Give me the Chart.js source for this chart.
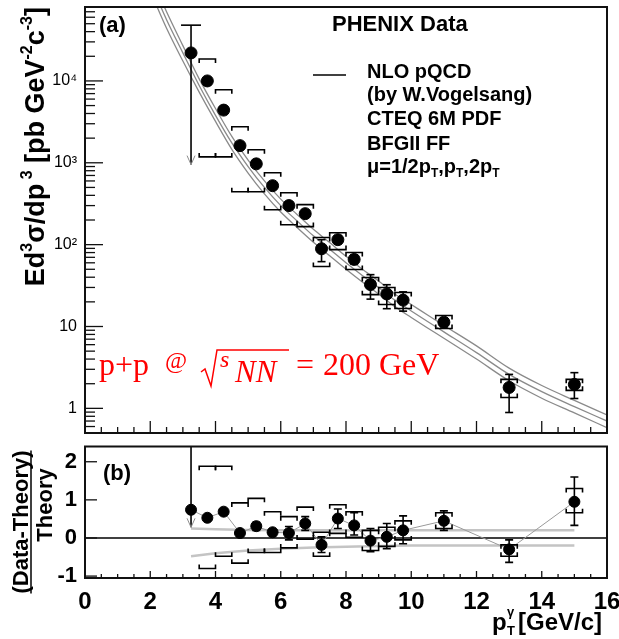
<!DOCTYPE html>
<html>
<head>
<meta charset="utf-8">
<script src="https://cdn.jsdelivr.net/npm/chart.js@4.4.0/dist/chart.umd.min.js"></script>
<style>
  body { margin: 0; background: #fff; }
  #wrap { position: relative; width: 619px; height: 639px; }
  canvas { position: absolute; left: 0; }
</style>
</head>
<body>
<div id="wrap">
  <canvas id="top" width="619" height="440" style="top:0"></canvas>
  <canvas id="bot" width="619" height="199" style="top:440px"></canvas>
</div>
<script>
// photon pT bins (GeV/c)
const pt = [3.25, 3.75, 4.25, 4.75, 5.25, 5.75, 6.25, 6.75, 7.25, 7.75, 8.25, 8.75, 9.25, 9.75, 11, 13, 15];

// (a) invariant cross section, pb GeV^-2 c^-3
const xsec       = [22000, 10000, 4400, 1620, 970, 525, 300, 239, 89, 115, 66, 32.5, 25, 21, 11.3, 1.8, 1.96];
const xsecStatHi = [48000, 10400, 4560, 1680, 1000, 545, 312, 262, 115, 128, 75, 43, 32.4, 26.5, 12.7, 2.6, 2.73];
const xsecStatLo = [950, 9600, 4250, 1560, 940, 505, 288, 218, 62, 103, 58, 21.6, 16.5, 15.4, 9.9, 0.89, 1.32];
const xsecSysHi  = [null, 18500, 7800, 2750, 1440, 755, 431, 308, 122, 140, 80, 39.6, 29.9, 26, 13.6, 2.26, 2.26];
const xsecSysLo  = [null, 1180, 1180, 443, 443, 267, 175, 166, 54, 87, 49.6, 24.5, 18.6, 16.6, 9.46, 1.36, 1.66];

// NLO pQCD curves, mu = pT/2, pT, 2pT
const thPt   = [2.0, 2.5, 3.0, 3.5, 4.0, 4.5, 5.0, 5.5, 6.0, 6.5, 7.0, 7.5, 8.0, 8.5, 9.0, 9.5, 10, 10.5, 11, 12, 13, 14, 15, 16];
const thHalf = [200000, 70000, 27000, 10600, 4600, 2100, 1080, 600, 360, 234, 154, 106, 72, 50, 36, 25, 18.6, 13.8, 10.3, 5.8, 3.1, 1.9, 1.25, 0.83];
const thOne  = [160000, 56000, 22000, 8800, 3800, 1750, 900, 500, 300, 195, 128, 88, 60, 42, 30, 21, 15.5, 11.5, 8.6, 4.8, 2.6, 1.6, 1.05, 0.7];
const thTwo  = [125000, 44000, 17500, 7300, 3200, 1460, 750, 417, 250, 162, 107, 73, 50, 35, 25, 17.5, 12.9, 9.6, 7.2, 4.0, 2.17, 1.33, 0.88, 0.58];

// (b) (Data-Theory)/Theory
const ratio       = [0.74, 0.53, 0.69, 0.13, 0.31, 0.15, 0.13, 0.38, -0.18, 0.51, 0.33, -0.07, 0.03, 0.2, 0.45, -0.3, 0.95];
const ratioStatHi = [3, 0.57, 0.73, 0.17, 0.41, 0.2, 0.3, 0.56, 0.03, 0.76, 0.66, 0.25, 0.38, 0.58, 0.71, -0.05, 1.6];
const ratioStatLo = [0.28, 0.49, 0.65, 0.09, 0.2, 0.1, -0.05, 0.2, -0.38, 0.25, 0.08, -0.36, -0.28, -0.15, 0.2, -0.64, 0.33];
const ratioSysHi  = [null, 1.88, 1.88, 0.92, 1.04, 0.69, 0.56, 0.81, 0.15, 0.87, 0.69, 0.2, 0.28, 0.45, 0.66, -0.18, 1.3];
const ratioSysLo  = [null, -0.8, -0.48, -0.66, -0.38, -0.38, -0.26, -0.03, -0.48, 0.12, 0.02, -0.33, -0.22, -0.05, 0.25, -0.48, 0.66];

// theory scale band in (b)
const bandPt = [3.25, 4, 5, 6, 7, 8, 9, 10, 12, 15];
const bandHi = [0.25, 0.23, 0.21, 0.2, 0.2, 0.2, 0.2, 0.2, 0.2, 0.2];
const bandLo = [-0.48, -0.4, -0.33, -0.28, -0.25, -0.23, -0.21, -0.2, -0.2, -0.2];

// axis ticks
const xTickVals = [0, 2, 4, 6, 8, 10, 12, 14, 16];
const yTicksTop = [1, 10, 100, 1000, 10000];
const yLabelsTop = ['1', '10', '10²', '10³', '10⁴'];
const yTicksBot = [-1, 0, 1, 2];

const SANS = 'Liberation Sans, Arial, sans-serif';
const SERIF = 'Liberation Serif, Times New Roman, serif';
const sysHalf = 0.25;   // bracket half width in GeV

const pts = (xs, ys) => xs.map((v, i) => ({ x: v, y: ys[i] }));

function seg(ctx, x1, y1, x2, y2) {
  ctx.beginPath(); ctx.moveTo(x1, y1); ctx.lineTo(x2, y2); ctx.stroke();
}

function bracket(ctx, xs, ys, p, v, dir) {
  const xl = xs.getPixelForValue(p - sysHalf), xr = xs.getPixelForValue(p + sysHalf);
  const yy = ys.getPixelForValue(v);
  ctx.beginPath();
  ctx.moveTo(xl, yy + dir * 4); ctx.lineTo(xl, yy); ctx.lineTo(xr, yy); ctx.lineTo(xr, yy + dir * 4);
  ctx.stroke();
}

function arrowHead(ctx, x, y) {
  ctx.save();
  ctx.strokeStyle = '#8c8c8c'; ctx.lineWidth = 1;
  ctx.beginPath(); ctx.moveTo(x - 4, y - 9); ctx.lineTo(x, y); ctx.lineTo(x + 4, y - 9); ctx.stroke();
  ctx.restore();
}

function errors(chart, vals, sHi, sLo, yHi, yLo, firstCap) {
  const { ctx, chartArea: a, scales: { x, y } } = chart;
  ctx.save();
  ctx.beginPath(); ctx.rect(a.left, a.top, a.right - a.left, a.bottom - a.top); ctx.clip();
  ctx.strokeStyle = '#000'; ctx.lineWidth = 1.6;
  pt.forEach((p, i) => {
    const px = x.getPixelForValue(p);
    const yh = y.getPixelForValue(sHi[i]), yl = y.getPixelForValue(sLo[i]);
    seg(ctx, px, yh, px, yl);
    if (i === 0) {
      seg(ctx, px - firstCap, yh, px + firstCap, yh);
      arrowHead(ctx, px, yl);
    } else {
      seg(ctx, px - 4, yh, px + 4, yh);
      seg(ctx, px - 4, yl, px + 4, yl);
    }
    if (yHi[i] != null) {
      bracket(ctx, x, y, p, yHi[i], 1);
      bracket(ctx, x, y, p, yLo[i], -1);
    }
  });
  ctx.restore();
}

function frame(ctx, a) {
  ctx.save();
  ctx.strokeStyle = '#111'; ctx.lineWidth = 2;
  ctx.strokeRect(a.left, a.top, a.right - a.left, a.bottom - a.top);
  ctx.restore();
}

function xInnerTicks(ctx, xs, a, major, minor) {
  ctx.save(); ctx.strokeStyle = '#111'; ctx.lineWidth = 1.3;
  for (let k = 0; k <= 32; k++) {
    const v = k * 0.5;
    const px = xs.getPixelForValue(v);
    seg(ctx, px, a.bottom, px, a.bottom - (k % 4 === 0 ? major : minor));
  }
  ctx.restore();
}

function textRuns(ctx, x, y, parts) {
  parts.forEach(r => {
    ctx.font = r.f;
    ctx.fillText(r.t, x, y + (r.dy || 0));
    x += ctx.measureText(r.t).width + (r.gap || 0);
  });
  return x;
}

function runsWidth(ctx, parts) {
  let w = 0;
  parts.forEach(r => { ctx.font = r.f; w += ctx.measureText(r.t).width + (r.gap || 0); });
  return w;
}

const topDecor = {
  id: 'topDecor',
  afterDatasetsDraw(chart) {
    errors(chart, xsec, xsecStatHi, xsecStatLo, xsecSysHi, xsecSysLo, 10);
  },
  afterDraw(chart) {
    const { ctx, chartArea: a, scales: { x, y } } = chart;
    frame(ctx, a);
    xInnerTicks(ctx, x, a, 12, 6);
    // log y ticks, inward
    ctx.save(); ctx.strokeStyle = '#111'; ctx.lineWidth = 1.3;
    for (let k = -1; k <= 4; k++) {
      for (let m = 1; m <= 9; m++) {
        const v = m * Math.pow(10, k);
        if (v < y.min || v > y.max) continue;
        const py = y.getPixelForValue(v);
        seg(ctx, a.left, py, a.left + (m === 1 ? 18 : 10), py);
      }
    }
    ctx.restore();

    ctx.save();
    ctx.fillStyle = '#000';
    ctx.font = 'bold 22px ' + SANS;
    ctx.fillText('(a)', 99, 32);
    ctx.fillText('PHENIX Data', 332, 31);

    ctx.strokeStyle = '#000'; ctx.lineWidth = 1.5;
    seg(ctx, 313, 75, 346, 75);
    const lf = 'bold 20px ' + SANS, sf = 'bold 12px ' + SANS;
    ctx.font = lf;
    ctx.fillText('NLO pQCD', 367, 78);
    ctx.fillText('(by W.Vogelsang)', 367, 101);
    ctx.fillText('CTEQ 6M PDF', 367, 125);
    ctx.fillText('BFGII FF', 367, 150);
    textRuns(ctx, 367, 173, [
      { t: 'μ=1/2p', f: lf }, { t: 'T', f: sf, dy: 4 }, { t: ',p', f: lf },
      { t: 'T', f: sf, dy: 4 }, { t: ',2p', f: lf }, { t: 'T', f: sf, dy: 4 }
    ]);

    // y title, rotated
    const tf = 'bold 27px ' + SANS, tsf = 'bold 16px ' + SANS;
    const title = [
      { t: 'Ed', f: tf }, { t: '3', f: tsf, dy: -12 }, { t: 'σ/dp', f: tf },
      { t: ' 3', f: tsf, dy: -12 }, { t: ' [pb GeV', f: tf }, { t: '-2', f: tsf, dy: -12 },
      { t: 'c', f: tf }, { t: '-3', f: tsf, dy: -12 }, { t: ']', f: tf }
    ];
    const tw = runsWidth(ctx, title);
    ctx.save();
    ctx.translate(44, 0); ctx.rotate(-Math.PI / 2);
    textRuns(ctx, -(7 + tw), 0, title);
    ctx.restore();

    // red collision label
    ctx.fillStyle = '#ff0000'; ctx.strokeStyle = '#ff0000'; ctx.lineWidth = 1.5;
    ctx.font = '32px ' + SERIF; ctx.fillText('p+p', 99, 375);
    ctx.font = '24px ' + SERIF; ctx.fillText('@', 165, 368);
    ctx.beginPath();
    ctx.moveTo(201, 372); ctx.lineTo(205, 369); ctx.lineTo(211, 386); ctx.lineTo(217, 350); ctx.lineTo(289, 350);
    ctx.stroke();
    ctx.font = 'italic 24px ' + SERIF; ctx.fillText('s', 220, 367);
    ctx.font = 'italic 31px ' + SERIF; ctx.fillText('NN', 235, 382);
    ctx.font = '32px ' + SERIF; ctx.fillText('=', 296, 375);
    ctx.fillText('200 GeV', 323, 375);
    ctx.restore();
  }
};

const botDecor = {
  id: 'botDecor',
  beforeDatasetsDraw(chart) {
    const { ctx, chartArea: a, scales: { y } } = chart;
    ctx.save(); ctx.strokeStyle = '#000'; ctx.lineWidth = 1.6;
    const py = y.getPixelForValue(0);
    seg(ctx, a.left, py, a.right, py);
    ctx.restore();
  },
  afterDatasetsDraw(chart) {
    errors(chart, ratio, ratioStatHi, ratioStatLo, ratioSysHi, ratioSysLo, 4);
  },
  afterDraw(chart) {
    const { ctx, chartArea: a, scales: { x, y } } = chart;
    frame(ctx, a);
    xInnerTicks(ctx, x, a, 7, 4);
    ctx.save(); ctx.strokeStyle = '#111'; ctx.lineWidth = 1.3;
    yTicksBot.forEach(v => { const py = y.getPixelForValue(v); seg(ctx, a.left, py, a.left + 12, py); });
    ctx.restore();

    ctx.save();
    ctx.fillStyle = '#000';
    ctx.font = 'bold 22px ' + SANS;
    ctx.fillText('(b)', 103, 40);

    // x title p_T^gamma [GeV/c]
    const xf = 'bold 24px ' + SANS;
    ctx.font = xf; ctx.fillText('p', 492, 190);
    ctx.font = 'bold 13px ' + SANS; ctx.fillText('γ', 507, 176);
    ctx.fillText('T', 507, 195);
    ctx.font = xf; ctx.fillText('[GeV/c]', 518, 190);

    // y title as a fraction
    ctx.save();
    ctx.translate(28, 82); ctx.rotate(-Math.PI / 2);
    ctx.font = 'bold 22px ' + SANS; ctx.textAlign = 'center';
    ctx.fillText('(Data-Theory)', 0, 0);
    const w = ctx.measureText('(Data-Theory)').width;
    ctx.lineWidth = 1.5; ctx.strokeStyle = '#000';
    seg(ctx, -w / 2, 3, w / 2, 3);
    ctx.fillText('Theory', 17, 24);
    ctx.restore();
    ctx.restore();
  }
};

Chart.defaults.font.family = SANS;
Chart.defaults.color = '#000';

new Chart(document.getElementById('top'), {
  type: 'scatter',
  data: {
    datasets: [
      { data: pts(pt, xsec), pointRadius: 6, pointBackgroundColor: '#000', pointBorderColor: '#000', showLine: false },
      { data: pts(thPt, thHalf), showLine: true, borderColor: '#8a8a8a', borderWidth: 1.3, pointRadius: 0, cubicInterpolationMode: 'monotone' },
      { data: pts(thPt, thOne), showLine: true, borderColor: '#8a8a8a', borderWidth: 1.3, pointRadius: 0, cubicInterpolationMode: 'monotone' },
      { data: pts(thPt, thTwo), showLine: true, borderColor: '#8a8a8a', borderWidth: 1.3, pointRadius: 0, cubicInterpolationMode: 'monotone' }
    ]
  },
  options: {
    responsive: false,
    animation: false,
    devicePixelRatio: 1,
    layout: { padding: { top: 6, right: 12, bottom: 5, left: 0 } },
    plugins: { legend: { display: false }, tooltip: { enabled: false } },
    scales: {
      x: { type: 'linear', min: 0, max: 16, display: false },
      y: {
        type: 'logarithmic', min: 0.5, max: 80000,
        afterFit(s) { s.width = 85; s.paddingTop = 0; s.paddingBottom = 0; },
        afterBuildTicks(s) { s.ticks = yTicksTop.map(v => ({ value: v })); },
        grid: { display: false, drawTicks: false },
        border: { display: false },
        ticks: {
          padding: 8, color: '#000', font: { size: 16 },
          callback: v => { const i = yTicksTop.indexOf(v); return i >= 0 ? yLabelsTop[i] : ''; }
        }
      }
    }
  },
  plugins: [topDecor]
});

new Chart(document.getElementById('bot'), {
  type: 'scatter',
  data: {
    datasets: [
      { data: pts(pt, ratio), pointRadius: 5.5, pointBackgroundColor: '#000', pointBorderColor: '#000', showLine: false },
      { data: pts(pt, ratio), showLine: true, borderColor: '#9a9a9a', borderWidth: 1, pointRadius: 0 },
      { data: pts(bandPt, bandHi), showLine: true, borderColor: '#c4c4c4', borderWidth: 2.5, pointRadius: 0 },
      { data: pts(bandPt, bandLo), showLine: true, borderColor: '#c4c4c4', borderWidth: 2.5, pointRadius: 0 }
    ]
  },
  options: {
    responsive: false,
    animation: false,
    devicePixelRatio: 1,
    layout: { padding: { top: 5, right: 12, bottom: 0, left: 0 } },
    plugins: { legend: { display: false }, tooltip: { enabled: false } },
    scales: {
      x: {
        type: 'linear', min: 0, max: 16,
        afterFit(s) { s.height = 61; s.paddingLeft = 0; s.paddingRight = 0; },
        afterBuildTicks(s) { s.ticks = xTickVals.map(v => ({ value: v })); },
        grid: { display: false, drawTicks: false },
        border: { display: false },
        ticks: { padding: 10, color: '#000', maxRotation: 0, autoSkip: false, font: { size: 24, weight: 'bold' } }
      },
      y: {
        type: 'linear', min: -1.05, max: 2.4,
        afterFit(s) { s.width = 85; s.paddingTop = 0; s.paddingBottom = 0; },
        afterBuildTicks(s) { s.ticks = yTicksBot.map(v => ({ value: v })); },
        grid: { display: false, drawTicks: false },
        border: { display: false },
        ticks: { padding: 8, color: '#000', font: { size: 22, weight: 'bold' } }
      }
    }
  },
  plugins: [botDecor]
});
</script>
</body>
</html>
